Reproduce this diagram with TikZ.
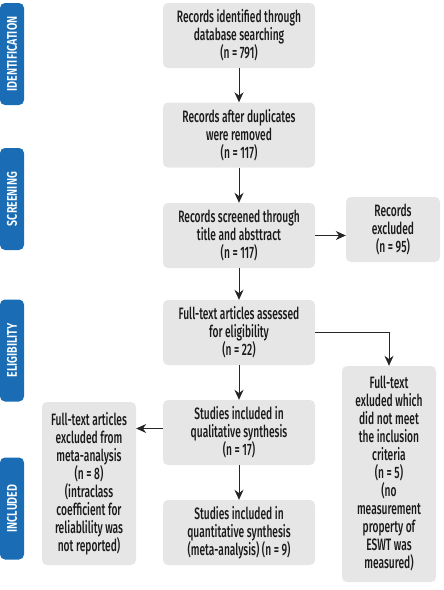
\documentclass[tikz,border=0pt]{standalone}
\usepackage{fontspec}
\setmainfont[FakeStretch=0.62]{Fira Sans Medium}
\newfontfamily\tabfont[FakeStretch=0.76]{Fira Sans SemiBold}
\usetikzlibrary{arrows.meta}
\definecolor{boxgray}{HTML}{E6E6E6}
\definecolor{tabblue}{HTML}{1A6DB5}
\begin{document}
\begin{tikzpicture}[x=1pt,y=-1pt,
  box/.style={fill=boxgray, rounded corners=5pt, align=center, inner sep=0pt,
    font=\fontsize{16.5}{18}\selectfont, text=black!90},
  wbox/.style={box, minimum width=152pt, minimum height=65pt},
  nbox/.style={box, minimum width=94pt},
  tab/.style={fill=tabblue, rounded corners=5pt, minimum width=24pt, minimum height=102pt,
    inner sep=0pt, text=white, font=\tabfont\fontsize{14}{15}\selectfont},
  arr/.style={draw=black!85, line width=0.9pt, -{Stealth[length=10pt,width=9pt]}}]
\useasboundingbox (0,0) rectangle (444,590);
% tabs
\node[tab] (t1) at (12,54) {\rotatebox{90}{IDENTIFICATION}};
\node[tab] (t2) at (12,199) {\rotatebox{90}{SCREENING}};
\node[tab] (t3) at (12,350.5) {\rotatebox{90}{ELIGIBILITY}};
\node[tab] (t4) at (12,508.5) {\rotatebox{90}{INCLUDED}};
% boxes
\node[wbox] (b1) at (239,35.5) {Records identified through\\database searching\\(n = 791)};
\node[wbox] (b2) at (239,135) {Records after duplicates\\were removed\\(n = 117)};
\node[wbox] (b3) at (239,235.5) {Records screened through\\title and absttract\\(n = 117)};
\node[nbox, minimum height=65pt] (e1) at (393,229.5) {Records\\excluded\\(n = 95)};
\node[wbox] (b4) at (239,332.5) {Full-text articles assessed\\for eligibility\\(n = 22)};
\node[wbox] (b5) at (239,432.5) {Studies included in\\qualitative synthesis\\(n = 17)};
\node[wbox] (b6) at (239,532.5) {Studies included in\\quantitative synthesis\\(meta-analysis) (n = 9)};
\node[nbox, minimum height=163pt] (l1) at (89,483.5) {Full-text articles\\excluded from\\meta-analysis\\(n = 8)\\(intraclass\\coefficient for\\reliablility was\\not reported)};
\node[nbox, minimum height=216pt] (r1) at (389,474) {Full-text\\exluded which\\did not meet\\the inclusion\\criteria\\(n = 5)\\(no\\measurement\\property of\\ESWT was\\measured)};
% arrows
\draw[arr] (b1) -- (b2);
\draw[arr] (b2) -- (b3);
\draw[arr] (b3) -- (b4);
\draw[arr] (b4) -- (b5);
\draw[arr] (b5) -- (b6);
\draw[arr] (b3.east) -- (b3.east -| e1.west);
\draw[arr] (b4.east) -| (r1.north);
\draw[arr] ([yshift=4pt]b5.west) -- ([yshift=4pt]b5.west -| l1.east);
\end{tikzpicture}
\end{document}
